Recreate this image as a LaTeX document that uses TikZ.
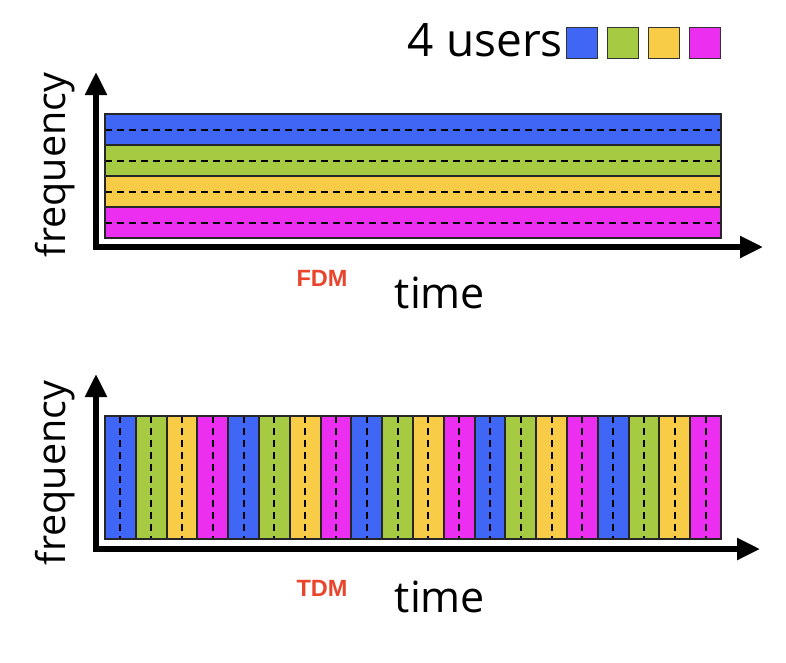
\documentclass[tikz,border=0pt]{standalone}
\usepackage{fontspec}
\setmainfont{Open Sans}
\newfontfamily\lblfont{Liberation Sans}
\usetikzlibrary{arrows.meta}
\definecolor{ublue}{RGB}{64,102,245}
\definecolor{ugreen}{RGB}{166,203,67}
\definecolor{uyellow}{RGB}{248,204,70}
\definecolor{umag}{RGB}{236,46,240}
\definecolor{lblred}{RGB}{232,69,44}
\begin{document}
\begin{tikzpicture}[x=1pt,y=-1pt,
  bandbox/.style={draw=black!85, line width=2pt},
  frame/.style={draw=black!85, line width=2.4pt},
  midline/.style={line width=2pt, dash pattern=on 7pt off 5pt},
  axisline/.style={line width=5.5pt, -{Triangle[length=23pt,width=21pt]}},
  swatch/.style={draw=black!80, line width=1.4pt, minimum width=31pt, minimum height=31pt, inner sep=0pt, anchor=north west},
  bigtext/.style={font=\fontsize{39.5}{44}\selectfont, inner sep=0pt},
  methlabel/.style={font=\lblfont\bfseries\fontsize{23.5}{26}\selectfont, text=lblred, inner sep=0pt}
]
\useasboundingbox (0,0) rectangle (786,662);

% ---------- legend ----------
\node[bigtext, font=\fontsize{46}{52}\selectfont, anchor=base east] (users) at (563,56) {4 users};
\node[swatch, fill=ublue]   (sw1) at (566,27) {};
\node[swatch, fill=ugreen]  (sw2) at (607,27) {};
\node[swatch, fill=uyellow] (sw3) at (648,27) {};
\node[swatch, fill=umag]    (sw4) at (689,27) {};

% ---------- FDM ----------
\foreach \c [count=\i from 0] in {ublue,ugreen,uyellow,umag}{
  \pgfmathsetmacro{\ytop}{114+31*\i}
  \draw[bandbox, fill=\c] (105,\ytop) rectangle (721,\ytop+31);
  \draw[midline] (105,\ytop+15.5) -- (721,\ytop+15.5);
}
\draw[frame] (105,114) rectangle (721,238);

\coordinate (fo) at (96,247);
\coordinate (fy) at (96,72);
\coordinate (fx) at (763,247);
\draw[axisline] ([yshift=-2.75pt]fo) -- (fy);
\draw[axisline] ([xshift=-2.75pt]fo) -- (fx);

\node[bigtext, rotate=90] (ffreq) at (55,165) {frequency};
\node[bigtext, font=\fontsize{43}{48}\selectfont, anchor=base] (ftime) at (440,308) {time};
\node[methlabel] (fdm) at (322,278) {FDM};

% ---------- TDM ----------
\foreach \k in {0,...,19}{
  \pgfmathtruncatemacro{\m}{mod(\k,4)}
  \ifcase\m \def\cc{ublue}\or \def\cc{ugreen}\or \def\cc{uyellow}\or \def\cc{umag}\fi
  \pgfmathsetmacro{\xl}{105+30.8*\k}
  \draw[bandbox, fill=\cc] (\xl,416) rectangle (\xl+30.8,539);
  \draw[midline] (\xl+15.4,416) -- (\xl+15.4,539);
}
\draw[frame] (105,416) rectangle (721,539);

\coordinate (to) at (96,549);
\coordinate (ty) at (96,374);
\coordinate (tx) at (760,549);
\draw[axisline] ([yshift=-2.75pt]to) -- (ty);
\draw[axisline] ([xshift=-2.75pt]to) -- (tx);

\node[bigtext, rotate=90] (tfreq) at (55,473) {frequency};
\node[bigtext, font=\fontsize{43}{48}\selectfont, anchor=base] (ttime) at (440,612) {time};
\node[methlabel] (tdm) at (322,588) {TDM};
\end{tikzpicture}
\end{document}
